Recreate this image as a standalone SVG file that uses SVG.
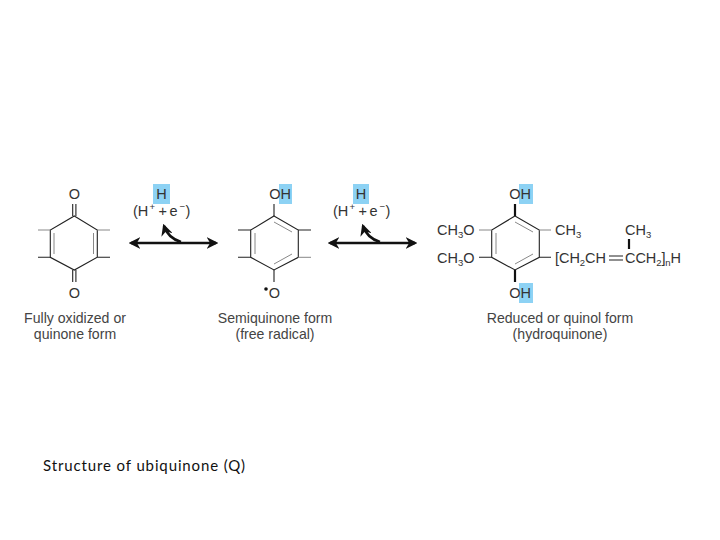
<svg xmlns="http://www.w3.org/2000/svg" width="720" height="540" viewBox="0 0 720 540">
<style>
text{font-family:"Liberation Sans",Arial,sans-serif;font-size:14.500px;fill:#333}
.c{text-anchor:middle}
.cap{font-size:14.100px;fill:#444}
.s{font-size:9.500px}
.b{stroke:#222;stroke-width:1.100;fill:none}
.t{stroke:#111;stroke-width:2.200;fill:none}
.d{stroke:#888;stroke-width:1;fill:none}
.h{fill:#8dd2f4}
.a{stroke:#111;stroke-width:2.600;fill:none}
</style>
<defs>
<marker id="ah" viewBox="0 0 10 10" refX="8" refY="5" markerWidth="4.500" markerHeight="4.500" orient="auto-start-reverse" markerUnits="strokeWidth"><path d="M0 0L10 5L0 10L3 5Z" fill="#111"/></marker>
</defs>
<rect width="720" height="540" fill="#fff"/>
<g id="connectors">
<path class="a" d="M131 243H216" marker-start="url(#ah)" marker-end="url(#ah)"/>
<path class="a" d="M181 242Q168 238 164 226" marker-end="url(#ah)"/>
<path class="a" d="M330 243H415" marker-start="url(#ah)" marker-end="url(#ah)"/>
<path class="a" d="M380 242Q367 238 363 226" marker-end="url(#ah)"/>
</g>
<g id="quinone">
<path class="b" d="M74.300 216L97.300 230V257.300L74.300 270L50.300 257.300V230Z"/>
<path class="d" d="M93.500 233V254M54 233V254"/>
<path class="b" d="M72.700 204V216M75.900 204V216M72.700 270V282M75.900 270V282"/>
<path class="d" d="M38 230H50.300M97.300 230H110"/>
<path class="b" d="M38 257.300H50.300M97.300 257.300H110"/>
<text class="c" x="74.300" y="199">O</text>
<text class="c" x="74.300" y="298">O</text>
<text class="cap c" x="75" y="323">Fully oxidized or</text>
<text class="cap c" x="75" y="339">quinone form</text>
</g>
<g id="step1">
<rect class="h" x="153" y="184" width="17" height="20"/>
<text class="c" x="161.500" y="199">H</text>
<text x="133" y="216">(H</text><text class="s" x="149.500" y="210">+</text><text x="158.500" y="216">+</text><text x="169.500" y="216">e</text><text class="s" x="179.500" y="210">−</text><text x="185.500" y="216">)</text>
</g>
<g id="semiquinone">
<path class="b" d="M274 216L298.300 230V257.300L274 270L250.700 257.300V230Z"/>
<path class="d" d="M255 233V254M274 222L292 232M274 264L292 254"/>
<path class="b" d="M274 204V216M274 270V282"/>
<path class="b" d="M238 230H250.700M298.300 230H311M238 257.300H250.700"/>
<path class="d" d="M298.300 257.300H311"/>
<rect class="h" x="279" y="184" width="13" height="20"/>
<text class="c" x="280" y="199">OH</text>
<text class="c" x="274.500" y="298">O</text>
<circle cx="266" cy="289" r="1.800" fill="#111"/>
<text class="cap c" x="275" y="323">Semiquinone form</text>
<text class="cap c" x="275" y="339">(free radical)</text>
</g>
<g id="step2">
<rect class="h" x="353" y="184" width="16" height="20"/>
<text class="c" x="361" y="199">H</text>
<text x="333" y="216">(H</text><text class="s" x="349.500" y="210">+</text><text x="358.500" y="216">+</text><text x="369.500" y="216">e</text><text class="s" x="379.500" y="210">−</text><text x="385.500" y="216">)</text>
</g>
<g id="hydroquinone">
<path class="b" d="M515 216L539.300 230V257.300L515 270L491.700 257.300V230Z"/>
<path class="d" d="M496 233V254M515 222L533 232M515 264L533 254"/>
<path class="t" d="M515 204V216M515 270V282"/>
<path class="d" d="M479 230H491.700M539.300 230H551"/>
<path class="b" d="M479 257.300H491.700M539.300 257.300H551"/>
<rect class="h" x="519" y="184" width="14" height="20"/>
<rect class="h" x="519" y="283" width="14" height="20"/>
<text class="c" x="520" y="199">OH</text>
<text class="c" x="520" y="298">OH</text>
<text x="437" y="235">CH<tspan class="s" dy="3">3</tspan><tspan dy="-3">O</tspan></text>
<text x="437" y="263">CH<tspan class="s" dy="3">3</tspan><tspan dy="-3">O</tspan></text>
<text x="555" y="235">CH<tspan class="s" dy="3">3</tspan></text>
<text x="625" y="235">CH<tspan class="s" dy="3">3</tspan></text>
<path class="t" d="M629 239V249"/>
<text x="555" y="263" textLength="51">[CH<tspan class="s" dy="3">2</tspan><tspan dy="-3">CH</tspan></text>
<path class="b" d="M609 256H623M609 260H623"/>
<text x="625" y="263" textLength="56">CCH<tspan class="s" dy="3">2</tspan><tspan dy="-3">]</tspan><tspan class="s" dy="3">n</tspan><tspan dy="-3">H</tspan></text>
<text class="cap c" x="560" y="323">Reduced or quinol form</text>
<text class="cap c" x="560" y="339">(hydroquinone)</text>
</g>
<text x="43" y="471" style="font-family:Lato,'Open Sans',sans-serif;font-size:15px;fill:#111" textLength="202">Structure of ubiquinone (Q)</text>
</svg>
